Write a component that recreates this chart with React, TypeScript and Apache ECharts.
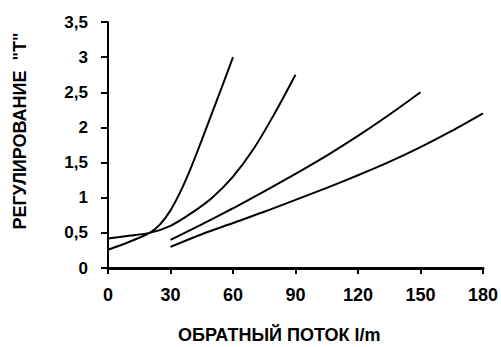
import React, { useEffect, useRef } from "react";
import * as echarts from "echarts";

const xTicks = [0, 30, 60, 90, 120, 150, 180];
const yTickLabels = ["0", "0,5", "1", "1,5", "2", "2,5", "3", "3,5"];

const curveA: [number, number][] = [
  [0, 0.26], [10, 0.37], [20, 0.5], [25, 0.62], [30, 0.82], [35, 1.1],
  [40, 1.44], [45, 1.82], [50, 2.21], [55, 2.6], [60, 3.0],
];
const curveB: [number, number][] = [
  [0, 0.42], [10, 0.46], [20, 0.5], [30, 0.6], [40, 0.78], [50, 1.0],
  [60, 1.3], [70, 1.7], [80, 2.2], [90, 2.75],
];
const curveC: [number, number][] = [
  [30, 0.4], [45, 0.62], [60, 0.85], [75, 1.09], [90, 1.34], [105, 1.6],
  [120, 1.88], [135, 2.18], [150, 2.5],
];
const curveD: [number, number][] = [
  [30, 0.3], [45, 0.48], [60, 0.64], [75, 0.8], [90, 0.97], [105, 1.14],
  [120, 1.32], [135, 1.51], [150, 1.72], [165, 1.95], [180, 2.2],
];

const xTitle = "ОБРАТНЫЙ ПОТОК l/m";
const yTitle = "РЕГУЛИРОВАНИЕ  \"Т\"";

export default function App() {
  const ref = useRef<HTMLDivElement>(null);
  useEffect(() => {
    document.body.style.margin = "0";
    if (!ref.current) return;
    const chart = echarts.init(ref.current, null, { renderer: "svg" });
    const font = "Liberation Sans, Arial, sans-serif";
    const mk = (data: [number, number][]) => ({
      type: "line",
      data,
      smooth: 0.3,
      showSymbol: false,
      lineStyle: { color: "#000", width: 2 },
      silent: true,
    });
    chart.setOption({
      animation: false,
      backgroundColor: "#fff",
      grid: { left: 108, right: 17, top: 22, bottom: 79, containLabel: false },
      xAxis: {
        type: "value",
        min: 0,
        max: 180,
        interval: 30,
        axisLine: { lineStyle: { color: "#000", width: 3 } },
        axisTick: { show: true, length: 6, lineStyle: { color: "#000", width: 2 } },
        splitLine: { show: false },
        axisLabel: {
          margin: 18,
          color: "#000",
          fontFamily: font,
          fontWeight: "bold",
          fontSize: 18,
          formatter: (v: number) => (xTicks.includes(v) ? String(v) : ""),
        },
      },
      yAxis: {
        type: "value",
        min: 0,
        max: 3.5,
        interval: 0.5,
        axisLine: { show: true, lineStyle: { color: "#000", width: 2 } },
        axisTick: { show: true, length: 7, lineStyle: { color: "#000", width: 2 } },
        splitLine: { show: false },
        axisLabel: {
          margin: 20,
          color: "#000",
          fontFamily: font,
          fontWeight: "bold",
          fontSize: 17,
          formatter: (v: number) => yTickLabels[Math.round(v / 0.5)] ?? "",
        },
      },
      graphic: [
        {
          type: "text",
          left: 178,
          top: 326,
          style: {
            text: xTitle,
            fill: "#000",
            font: `bold 18px ${font}`,
          },
        },
        {
          type: "text",
          x: 20,
          y: 131,
          rotation: Math.PI / 2,
          style: {
            text: yTitle,
            fill: "#000",
            font: `bold 18px ${font}`,
            align: "center",
            verticalAlign: "middle",
          },
        },
      ],
      series: [mk(curveA), mk(curveB), mk(curveC), mk(curveD)],
    });
    return () => chart.dispose();
  }, []);
  return <div ref={ref} style={{ width: 501, height: 347 }} />;
}
